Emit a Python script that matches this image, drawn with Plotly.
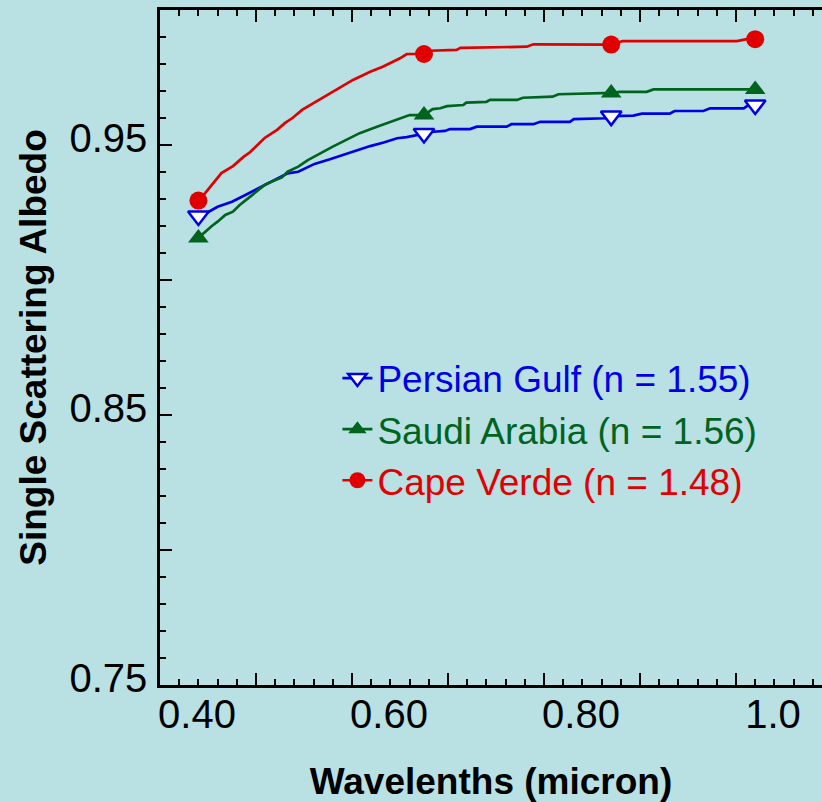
import plotly.graph_objects as go

# ---------------- data ----------------
marker_wavelengths = [0.44, 0.675, 0.87, 1.02]

pg_x = [0.44, 0.449, 0.460, 0.475, 0.489, 0.501, 0.513, 0.523, 0.533, 0.544, 0.554, 0.561,
        0.577, 0.591, 0.605, 0.619, 0.633, 0.647, 0.657, 0.675, 0.685, 0.697, 0.702, 0.723,
        0.730, 0.761, 0.766, 0.789, 0.796, 0.827, 0.831, 0.865, 0.87, 0.893, 0.902, 0.931,
        0.936, 0.966, 0.973, 1.008, 1.013, 1.02]
pg_y = [0.9237, 0.9249, 0.9271, 0.9290, 0.9315, 0.9336, 0.9358, 0.9377, 0.9395, 0.9401, 0.9417, 0.9430,
        0.9447, 0.9463, 0.9479, 0.9496, 0.9509, 0.9525, 0.9529, 0.9543, 0.9549, 0.9552, 0.9559, 0.9559,
        0.9568, 0.9568, 0.9577, 0.9577, 0.9586, 0.9586, 0.9596, 0.9599, 0.9607, 0.9609, 0.9616, 0.9616,
        0.9626, 0.9626, 0.9636, 0.9636, 0.9648, 0.9648]

sa_x = [0.44, 0.447, 0.454, 0.460, 0.468, 0.476, 0.483, 0.494, 0.502, 0.509, 0.516, 0.527,
        0.533, 0.544, 0.554, 0.567, 0.580, 0.594, 0.608, 0.626, 0.636, 0.647, 0.660, 0.675,
        0.684, 0.692, 0.699, 0.716, 0.719, 0.740, 0.744, 0.772, 0.778, 0.809, 0.815, 0.87,
        0.879, 0.907, 0.914, 1.011, 1.02]
sa_y = [0.9156, 0.9179, 0.9200, 0.9216, 0.9241, 0.9253, 0.9278, 0.9309, 0.9333, 0.9352, 0.9364, 0.9380,
        0.9401, 0.9420, 0.9444, 0.9470, 0.9494, 0.9519, 0.9544, 0.9568, 0.9580, 0.9593, 0.9611, 0.9611,
        0.9633, 0.9636, 0.9644, 0.9648, 0.9657, 0.9660, 0.9667, 0.9667, 0.9675, 0.9679, 0.9688, 0.9693,
        0.9697, 0.9697, 0.9706, 0.9706, 0.9706]

cv_x = [0.44, 0.447, 0.464, 0.476, 0.487, 0.494, 0.509, 0.522, 0.530, 0.538, 0.548, 0.562,
        0.580, 0.588, 0.601, 0.619, 0.632, 0.650, 0.657, 0.675, 0.681, 0.709, 0.713, 0.782,
        0.789, 0.87, 0.882, 1.001, 1.011, 1.02]
cv_y = [0.9294, 0.9322, 0.9396, 0.9422, 0.9456, 0.9474, 0.9526, 0.9556, 0.9581, 0.9600, 0.9630, 0.9659,
        0.9697, 0.9716, 0.9741, 0.9771, 0.9790, 0.9821, 0.9837, 0.9837, 0.9849, 0.9852, 0.9860, 0.9864,
        0.9873, 0.9872, 0.9885, 0.9885, 0.9892, 0.9892]

series_names = ["Persian Gulf (n = 1.55)", "Saudi Arabia (n = 1.56)", "Cape Verde (n = 1.48)"]

x_tick_values = [0.4, 0.5, 0.6, 0.7, 0.8, 0.9, 1.0]
x_tick_labels = ["0.40", "", "0.60", "", "0.80", "", "1.0"]
y_tick_values = [0.75, 0.80, 0.85, 0.90, 0.95, 1.00]
y_tick_labels = ["0.75", "", "0.85", "", "0.95", ""]

# ---------------- style ----------------
BG = "#b9e0e3"
BLUE = "#0000e6"
GREEN = "#00641e"
RED = "#e00000"
FONT = "Liberation Sans, Arial, sans-serif"


def marker_colors(xs, color):
    return [color if any(abs(x - m) < 1e-9 for m in marker_wavelengths) else "rgba(0,0,0,0)" for x in xs]


fig = go.Figure()

series = [
    (pg_x, pg_y, series_names[0], BLUE, "triangle-down", "white", BLUE),
    (sa_x, sa_y, series_names[1], GREEN, "triangle-up", GREEN, GREEN),
    (cv_x, cv_y, series_names[2], RED, "circle", RED, RED),
]

for xs, ys, name, col, sym, fill, edge in series:
    fig.add_trace(go.Scatter(
        x=xs, y=ys, mode="lines+markers",
        name=f"<span style='color:{col}'>{name}</span>",
        line=dict(color=col, width=2.7),
        marker=dict(symbol=sym, size=18,
                    color=marker_colors(xs, fill),
                    line=dict(color=marker_colors(xs, edge), width=2.5 if fill == "white" else 0)),
    ))

axis_common = dict(
    showgrid=False, zeroline=False, showline=True, linecolor="black", linewidth=2.5,
    ticks="inside", ticklen=12, tickwidth=2, tickcolor="black",
    tickfont=dict(family=FONT, size=40, color="black"),
)

fig.update_xaxes(
    **axis_common,
    range=[0.4, 1.0896],
    tickmode="array", tickvals=x_tick_values, ticktext=x_tick_labels,
    ticklabelshift=37, ticklabelstandoff=-8,
    mirror="allticks",
    minor=dict(dtick=0.02, tick0=0.4, ticks="inside", ticklen=6, tickwidth=2, tickcolor="black"),
    title=dict(text="<b>Wavelenths (micron)</b>", font=dict(family=FONT, size=37, color="black"), standoff=35),
)
fig.update_yaxes(
    **axis_common,
    range=[0.75, 1.0],
    tickmode="array", tickvals=y_tick_values, ticktext=y_tick_labels,
    ticklabelshift=-7, ticklabelstandoff=2,
    mirror=False,
    minor=dict(dtick=0.01, tick0=0.75, ticks="inside", ticklen=6, tickwidth=2, tickcolor="black"),
    title=dict(text="<b>Single Scattering Albedo</b>", font=dict(family=FONT, size=37, color="black"), standoff=12),
)

fig.update_layout(
    width=822, height=802,
    margin=dict(l=160, r=0, t=10, b=117),
    paper_bgcolor=BG, plot_bgcolor=BG,
    font=dict(family=FONT, color="black"),
    legend=dict(x=0.268, y=0.5, xanchor="left", yanchor="top",
                bgcolor="rgba(0,0,0,0)", borderwidth=0,
                font=dict(family=FONT, size=37), tracegroupgap=0),
    showlegend=True,
)

fig.write_html("out.html", config={"displayModeBar": False},
               post_script="document.body.style.margin='0';document.body.style.overflow='hidden';")
